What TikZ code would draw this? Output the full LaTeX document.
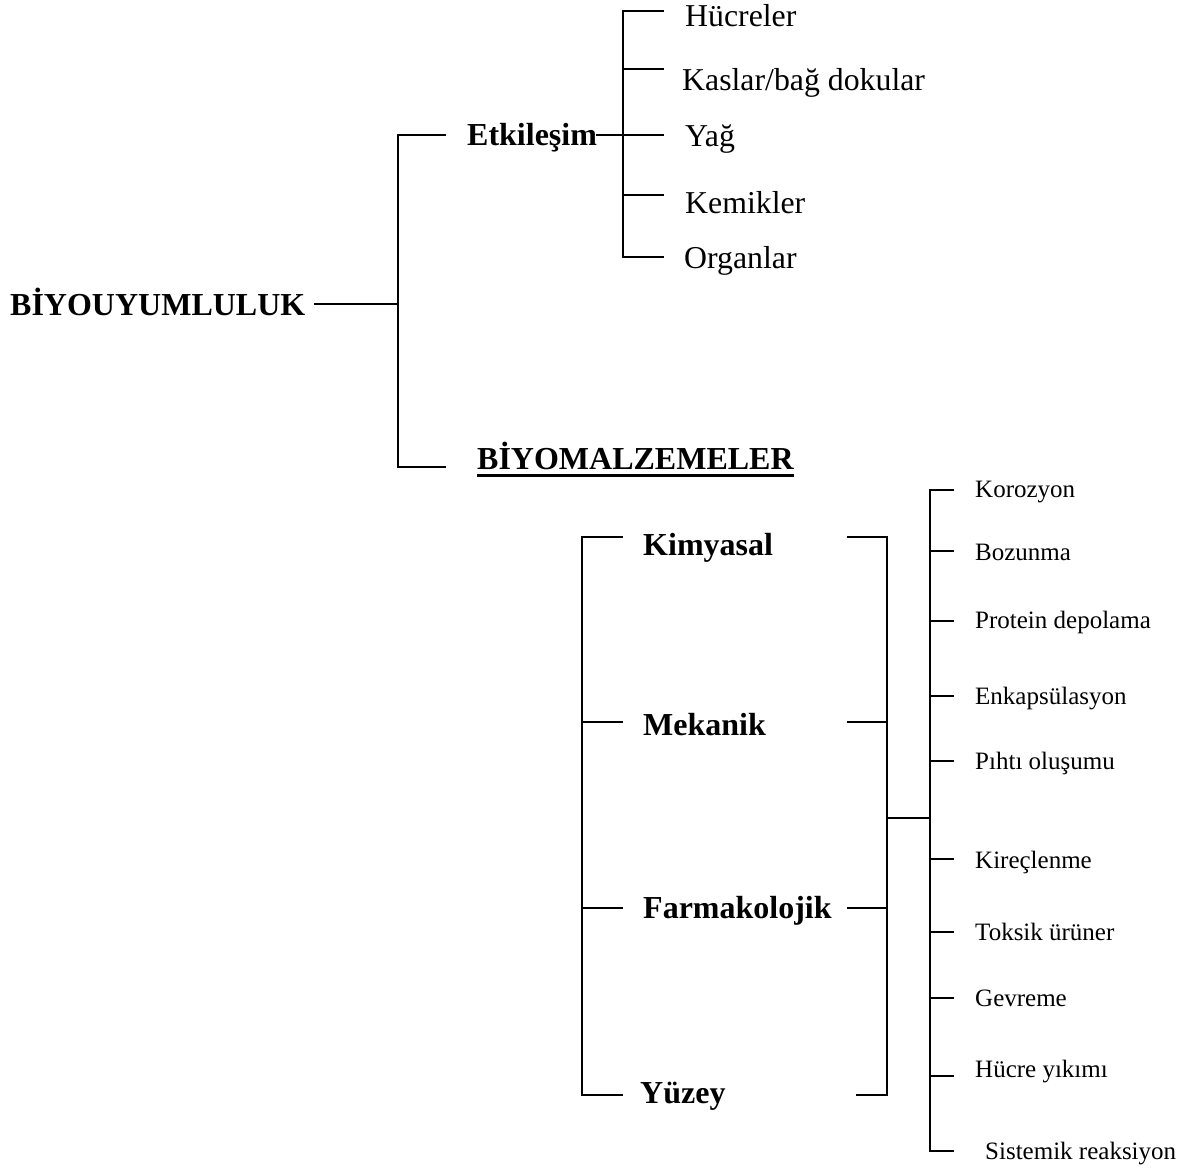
\documentclass[tikz,border=0pt]{standalone}
\usepackage{fontspec}
\setmainfont{Liberation Serif}
\begin{document}
\begin{tikzpicture}[x=1pt,y=-1pt,
  conn/.style={line width=2pt, line cap=rect},
  bigbold/.style={font=\fontsize{32}{38}\selectfont\bfseries, inner sep=0pt, anchor=base west},
  toplab/.style={font=\fontsize{31.8}{37}\selectfont, inner sep=0pt, anchor=base west},
  smalllab/.style={font=\fontsize{25}{30}\selectfont, inner sep=0pt, anchor=base west}]
\useasboundingbox (0,0) rectangle (1204,1169);

% ---- upper part ----
\node[bigbold] (bio) at (10,315) {BİYOUYUMLULUK};
\node[bigbold] (etk) at (467,146) {Etkileşim};
\node[bigbold] (bm) at (477,469) {BİYOMALZEMELER};
\draw[line width=3pt] ([yshift=-6pt]bm.base west) -- ([yshift=-6pt]bm.base east);

\coordinate (b1) at (315,304);
\coordinate (bj) at (398,304);
\coordinate (bt) at (398,135);
\coordinate (bb) at (398,467);
\coordinate (bte) at (445,135);
\coordinate (bbe) at (445,467);
\draw[conn] (b1) -- (bj);
\draw[conn] (bte) -- (bt) -- (bb) -- (bbe);

% Etkileşim branch
\node[toplab] (h1) at (685,27) {Hücreler};
\node[toplab] (h2) at (682,91) {Kaslar/bağ dokular};
\node[toplab] (h3) at (685,147) {Yağ};
\node[toplab] (h4) at (685,213) {Kemikler};
\node[toplab] (h5) at (684,268) {Organlar};

\coordinate (ev1) at (623,11);
\coordinate (ev5) at (623,257);
\draw[conn] (ev1) -- (ev5);
\draw[conn] (etk.east |- 0,135) -- (663,135);
\foreach \yy in {11,69,195,257}{
  \draw[conn] (623,\yy) -- (663,\yy);
}

% ---- lower part ----
\node[bigbold] (kim) at (643,555) {Kimyasal};
\node[bigbold] (mek) at (643,735) {Mekanik};
\node[bigbold] (far) at (643,918) {Farmakolojik};
\node[bigbold] (yuz) at (640,1103) {Yüzey};

\coordinate (lt) at (582,537);
\coordinate (lb) at (582,1095);
\draw[conn] (622,537) -- (lt) -- (lb) -- (622,1095);
\draw[conn] (582,722) -- (622,722);
\draw[conn] (582,908) -- (622,908);

\coordinate (rt) at (887,537);
\coordinate (rb) at (887,1095);
\coordinate (rm) at (887,818);
\draw[conn] (848,537) -- (rt) -- (rb) -- (857,1095);
\draw[conn] (848,722) -- (887,722);
\draw[conn] (848,908) -- (887,908);

\coordinate (sm) at (930,818);
\draw[conn] (rm) -- (sm);

\coordinate (st) at (930,490);
\coordinate (sb) at (930,1151);
\draw[conn] (st) -- (sb);
\foreach \yy in {490,551,621,696,761,859,932,998,1076,1151}{
  \draw[conn] (930,\yy) -- (953,\yy);
}

\node[smalllab] (s1) at (975,497) {Korozyon};
\node[smalllab] (s2) at (975,560) {Bozunma};
\node[smalllab] (s3) at (975,628) {Protein depolama};
\node[smalllab] (s4) at (975,704) {Enkapsülasyon};
\node[smalllab] (s5) at (975,769) {Pıhtı oluşumu};
\node[smalllab] (s6) at (975,868) {Kireçlenme};
\node[smalllab] (s7) at (975,940) {Toksik ürüner};
\node[smalllab] (s8) at (975,1006) {Gevreme};
\node[smalllab] (s9) at (975,1077) {Hücre yıkımı};
\node[smalllab] (s10) at (985,1159) {Sistemik reaksiyon};
\end{tikzpicture}
\end{document}
